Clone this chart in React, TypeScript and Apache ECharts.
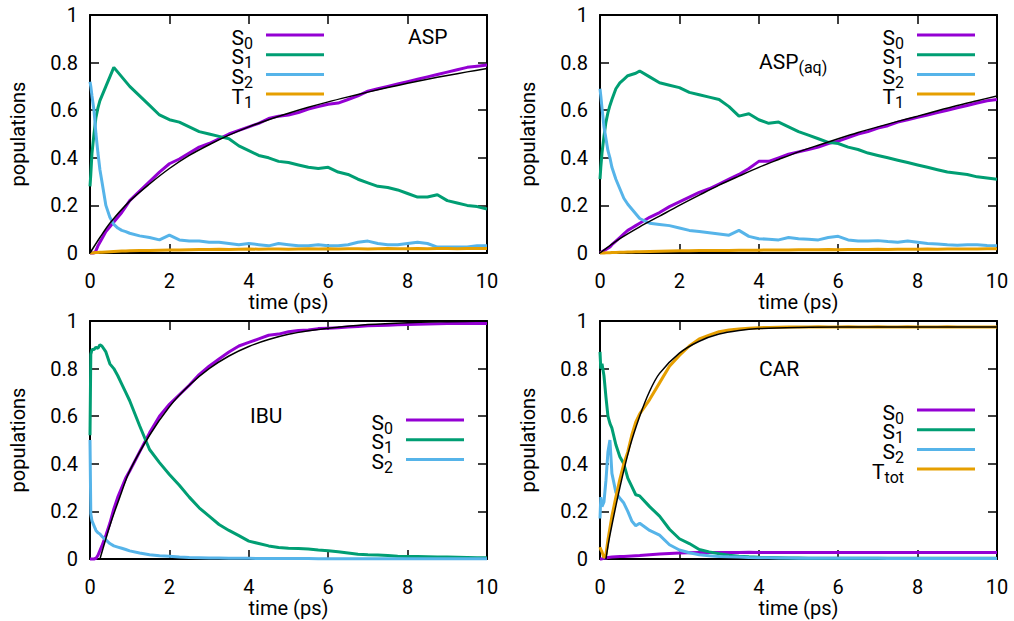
import React, { useEffect, useRef } from "react";
import * as echarts from "echarts";

// shared time grid (ps)
const times = [
  0, 0.02, 0.05, 0.1, 0.15, 0.2, 0.25, 0.3, 0.4, 0.5, 0.6, 0.7, 0.8, 0.9,
  1, 1.25, 1.5, 1.75, 2, 2.25, 2.5, 2.75, 3,
  3.25, 3.5, 3.75, 4, 4.25, 4.5, 4.75, 5,
  5.25, 5.5, 5.75, 6, 6.25, 6.5, 6.75, 7,
  7.25, 7.5, 7.75, 8, 8.25, 8.5, 8.75, 9,
  9.25, 9.5, 9.75, 10,
];

const xTicks = [0, 2, 4, 6, 8, 10];
const yTicks = [0, 0.2, 0.4, 0.6, 0.8, 1];

// ---------- ASP ----------
const aspS0 = [
  0, 0, 0, 0, 0.01, 0.03, 0.045, 0.06, 0.09, 0.11, 0.13, 0.15, 0.17, 0.195,
  0.22, 0.26, 0.3, 0.34, 0.375, 0.395, 0.42, 0.445, 0.46,
  0.48, 0.5, 0.515, 0.53, 0.545, 0.565, 0.575, 0.58,
  0.59, 0.605, 0.615, 0.625, 0.63, 0.645, 0.66, 0.68,
  0.69, 0.7, 0.71, 0.72, 0.73, 0.74, 0.75, 0.76,
  0.77, 0.78, 0.785, 0.79,
];
const aspS1 = [
  0.28, 0.33, 0.42, 0.5, 0.57, 0.61, 0.64, 0.66, 0.7, 0.74, 0.78, 0.76, 0.74, 0.72,
  0.7, 0.66, 0.62, 0.58, 0.56, 0.55, 0.53, 0.51, 0.5,
  0.49, 0.48, 0.45, 0.43, 0.41, 0.4, 0.385, 0.38,
  0.37, 0.36, 0.355, 0.36, 0.34, 0.33, 0.31, 0.295,
  0.28, 0.275, 0.265, 0.25, 0.235, 0.235, 0.245, 0.22,
  0.21, 0.2, 0.195, 0.185,
];
const aspS2 = [
  0.72, 0.7, 0.66, 0.6, 0.5, 0.42, 0.35, 0.3, 0.2, 0.15, 0.12, 0.105, 0.095, 0.09,
  0.083, 0.072, 0.065, 0.055, 0.075, 0.055, 0.05, 0.05, 0.045,
  0.045, 0.04, 0.035, 0.04, 0.035, 0.03, 0.04, 0.035,
  0.03, 0.03, 0.035, 0.03, 0.03, 0.035, 0.045, 0.05,
  0.04, 0.035, 0.035, 0.04, 0.045, 0.04, 0.025, 0.025,
  0.025, 0.025, 0.03, 0.03,
];
const aspT1 = [
  0, 0, 0, 0.001, 0.002, 0.002, 0.003, 0.003, 0.004, 0.005, 0.006, 0.007, 0.008, 0.008,
  0.009, 0.01, 0.011, 0.012, 0.013, 0.013, 0.014, 0.015, 0.015,
  0.016, 0.015, 0.016, 0.017, 0.016, 0.017, 0.017, 0.016,
  0.017, 0.018, 0.017, 0.018, 0.017, 0.018, 0.018, 0.017,
  0.018, 0.019, 0.018, 0.018, 0.019, 0.018, 0.019, 0.019,
  0.018, 0.019, 0.019, 0.019,
];
const aspFit = [
  [0, 0], [0.25, 0.065], [0.5, 0.125], [1, 0.218], [1.5, 0.29], [2, 0.355],
  [2.5, 0.41], [3, 0.455], [3.5, 0.495], [4, 0.53], [4.5, 0.56], [5, 0.587],
  [5.5, 0.612], [6, 0.635], [6.5, 0.656], [7, 0.676], [7.5, 0.695], [8, 0.713],
  [8.5, 0.73], [9, 0.746], [9.5, 0.761], [10, 0.775],
];

// ---------- ASP(aq) ----------
const aqS0 = [
  0, 0.002, 0.005, 0.01, 0.015, 0.02, 0.025, 0.035, 0.05, 0.065, 0.08, 0.095, 0.105, 0.115,
  0.125, 0.15, 0.17, 0.195, 0.215, 0.235, 0.255, 0.27, 0.29,
  0.31, 0.33, 0.355, 0.385, 0.385, 0.4, 0.415, 0.425,
  0.435, 0.445, 0.46, 0.47, 0.485, 0.5, 0.51, 0.525,
  0.535, 0.55, 0.56, 0.57, 0.58, 0.59, 0.6, 0.61,
  0.62, 0.63, 0.64, 0.645,
];
const aqS1 = [
  0.31, 0.36, 0.42, 0.49, 0.55, 0.59, 0.62, 0.645, 0.69, 0.715, 0.73, 0.745, 0.75, 0.755,
  0.765, 0.74, 0.715, 0.705, 0.695, 0.675, 0.665, 0.655, 0.645,
  0.615, 0.575, 0.585, 0.56, 0.545, 0.55, 0.53, 0.51,
  0.495, 0.48, 0.465, 0.46, 0.445, 0.435, 0.42, 0.41,
  0.4, 0.39, 0.38, 0.37, 0.36, 0.35, 0.34, 0.335,
  0.33, 0.32, 0.315, 0.31,
];
const aqS2 = [
  0.69, 0.66, 0.61, 0.53, 0.48, 0.43, 0.4, 0.36, 0.31, 0.27, 0.23, 0.205, 0.185, 0.165,
  0.145, 0.125, 0.12, 0.115, 0.105, 0.095, 0.09, 0.085, 0.08,
  0.075, 0.095, 0.07, 0.06, 0.058, 0.055, 0.065, 0.06,
  0.058, 0.055, 0.065, 0.07, 0.055, 0.05, 0.05, 0.052,
  0.048, 0.045, 0.05, 0.045, 0.04, 0.038, 0.035, 0.033,
  0.035, 0.035, 0.032, 0.03,
];
const aqT1 = [
  0, 0, 0, 0, 0.001, 0.001, 0.001, 0.002, 0.002, 0.003, 0.003, 0.004, 0.004, 0.005,
  0.005, 0.006, 0.007, 0.008, 0.009, 0.009, 0.01, 0.01, 0.011,
  0.011, 0.012, 0.012, 0.012, 0.013, 0.013, 0.013, 0.014,
  0.014, 0.014, 0.015, 0.014, 0.015, 0.015, 0.015, 0.016,
  0.015, 0.016, 0.016, 0.016, 0.017, 0.016, 0.017, 0.017,
  0.017, 0.017, 0.018, 0.018,
];
const aqFit = [
  [0, 0], [0.5, 0.06], [1, 0.11], [1.5, 0.155], [2, 0.2], [2.5, 0.243],
  [3, 0.285], [3.5, 0.323], [4, 0.36], [4.5, 0.393], [5, 0.425], [5.5, 0.453],
  [6, 0.48], [6.5, 0.506], [7, 0.53], [7.5, 0.553], [8, 0.575], [8.5, 0.598],
  [9, 0.62], [9.5, 0.64], [10, 0.66],
];

// ---------- IBU ----------
const ibuS0 = [
  0, 0, 0, 0, 0.003, 0.015, 0.035, 0.055, 0.1, 0.15, 0.21, 0.26, 0.3, 0.34,
  0.37, 0.45, 0.53, 0.6, 0.65, 0.69, 0.73, 0.775, 0.81,
  0.84, 0.87, 0.895, 0.91, 0.925, 0.94, 0.945, 0.955,
  0.96, 0.962, 0.968, 0.97, 0.972, 0.975, 0.977, 0.98,
  0.981, 0.982, 0.984, 0.985, 0.986, 0.987, 0.988, 0.989,
  0.99, 0.99, 0.99, 0.99,
];
const ibuS1 = [
  0.52, 0.86, 0.88, 0.88, 0.89, 0.885, 0.9, 0.895, 0.87, 0.82, 0.8, 0.77, 0.735, 0.7,
  0.665, 0.56, 0.46, 0.405, 0.355, 0.31, 0.26, 0.215, 0.18,
  0.145, 0.12, 0.098, 0.075, 0.065, 0.055, 0.048, 0.045,
  0.044, 0.042, 0.038, 0.035, 0.03, 0.025, 0.02, 0.018,
  0.017, 0.015, 0.012, 0.011, 0.01, 0.009, 0.008, 0.008,
  0.007, 0.006, 0.005, 0.005,
];
const ibuS2 = [
  0.5, 0.19, 0.16, 0.14, 0.12, 0.11, 0.105, 0.095, 0.08, 0.065, 0.055, 0.05, 0.045, 0.04,
  0.034, 0.025, 0.018, 0.014, 0.012, 0.008, 0.006, 0.005, 0.004,
  0.004, 0.003, 0.003, 0.003, 0.002, 0.002, 0.002, 0.002,
  0.002, 0.002, 0.001, 0.001, 0.001, 0.001, 0.001, 0.001,
  0.001, 0.001, 0.001, 0.001, 0.001, 0.001, 0.001, 0.001,
  0.001, 0.001, 0.001, 0.001,
];
const ibuFit = [
  [0.25, 0], [0.5, 0.14], [0.75, 0.26], [1, 0.37], [1.5, 0.52], [2, 0.64],
  [2.5, 0.73], [3, 0.8], [3.5, 0.853], [4, 0.893], [4.5, 0.922], [5, 0.944],
  [5.5, 0.959], [6, 0.97], [7, 0.985], [8, 0.993], [9, 0.997], [10, 1.0],
];

// ---------- CAR ----------
const carS0 = [
  0, 0, 0.001, 0.003, 0.004, 0.006, 0.007, 0.008, 0.009, 0.01, 0.011, 0.012, 0.013, 0.014,
  0.015, 0.018, 0.021, 0.023, 0.025, 0.026, 0.027, 0.027, 0.027,
  0.027, 0.027, 0.028, 0.027, 0.027, 0.027, 0.027, 0.027,
  0.027, 0.027, 0.027, 0.027, 0.027, 0.027, 0.027, 0.027,
  0.027, 0.027, 0.027, 0.027, 0.027, 0.027, 0.027, 0.027,
  0.027, 0.027, 0.027, 0.027,
];
const carS1 = [
  0.87, 0.8, 0.82, 0.77, 0.68, 0.6, 0.57, 0.55, 0.48, 0.43, 0.4, 0.34, 0.305, 0.27,
  0.265, 0.22, 0.18, 0.125, 0.085, 0.065, 0.04, 0.03, 0.022,
  0.016, 0.012, 0.009, 0.007, 0.006, 0.005, 0.004, 0.004,
  0.003, 0.003, 0.003, 0.003, 0.003, 0.003, 0.003, 0.003,
  0.003, 0.003, 0.003, 0.003, 0.003, 0.003, 0.003, 0.003,
  0.003, 0.003, 0.003, 0.003,
];
const carS2 = [
  0.17, 0.26, 0.22, 0.24, 0.33, 0.45, 0.5, 0.36, 0.28, 0.255, 0.235, 0.2, 0.16, 0.14,
  0.15, 0.12, 0.1, 0.06, 0.038, 0.026, 0.018, 0.014, 0.011,
  0.009, 0.008, 0.006, 0.005, 0.005, 0.004, 0.004, 0.003,
  0.003, 0.003, 0.003, 0.003, 0.003, 0.003, 0.003, 0.003,
  0.002, 0.002, 0.002, 0.002, 0.002, 0.002, 0.002, 0.002,
  0.002, 0.002, 0.002, 0.002,
];
const carTtot = [
  0.05, 0.04, 0.03, 0.005, 0.02, 0.08, 0.13, 0.18, 0.26, 0.335, 0.4, 0.45, 0.52, 0.575,
  0.61, 0.67, 0.74, 0.81, 0.855, 0.895, 0.925, 0.94, 0.955,
  0.962, 0.966, 0.97, 0.972, 0.973, 0.974, 0.975, 0.975,
  0.975, 0.976, 0.975, 0.975, 0.976, 0.975, 0.975, 0.976,
  0.975, 0.975, 0.976, 0.975, 0.975, 0.975, 0.976, 0.975,
  0.975, 0.975, 0.975, 0.975,
];
const carFit = [
  [0.15, 0], [0.25, 0.1], [0.5, 0.3], [0.75, 0.47], [1, 0.6], [1.25, 0.705],
  [1.5, 0.78], [2, 0.865], [2.5, 0.915], [3, 0.945], [3.5, 0.96], [4, 0.968],
  [5, 0.973], [6, 0.975], [8, 0.975], [10, 0.975],
];

const COL = { S0: "#9400d3", S1: "#009e73", S2: "#56b4e9", T: "#e69f00" };
const FONT = "Roboto";

type Curve = { color: string; vals: number[]; main: string; sub: string };
type Panel = {
  left: number;
  top: number;
  curves: Curve[];
  fit: number[][];
  label: { main: string; sub: string; x: number; y: number };
  legendX: number;
  legendY: number;
};

const panels: Panel[] = [
  {
    left: 90, top: 15,
    curves: [
      { color: COL.S0, vals: aspS0, main: "S", sub: "0" },
      { color: COL.S1, vals: aspS1, main: "S", sub: "1" },
      { color: COL.S2, vals: aspS2, main: "S", sub: "2" },
      { color: COL.T, vals: aspT1, main: "T", sub: "1" },
    ],
    fit: aspFit,
    label: { main: "ASP", sub: "", x: 408, y: 38 },
    legendX: 253, legendY: 35,
  },
  {
    left: 600, top: 15,
    curves: [
      { color: COL.S0, vals: aqS0, main: "S", sub: "0" },
      { color: COL.S1, vals: aqS1, main: "S", sub: "1" },
      { color: COL.S2, vals: aqS2, main: "S", sub: "2" },
      { color: COL.T, vals: aqT1, main: "T", sub: "1" },
    ],
    fit: aqFit,
    label: { main: "ASP", sub: "(aq)", x: 759, y: 62 },
    legendX: 904, legendY: 35,
  },
  {
    left: 90, top: 321,
    curves: [
      { color: COL.S0, vals: ibuS0, main: "S", sub: "0" },
      { color: COL.S1, vals: ibuS1, main: "S", sub: "1" },
      { color: COL.S2, vals: ibuS2, main: "S", sub: "2" },
    ],
    fit: ibuFit,
    label: { main: "IBU", sub: "", x: 250, y: 417 },
    legendX: 393, legendY: 420,
  },
  {
    left: 600, top: 321,
    curves: [
      { color: COL.S0, vals: carS0, main: "S", sub: "0" },
      { color: COL.S1, vals: carS1, main: "S", sub: "1" },
      { color: COL.S2, vals: carS2, main: "S", sub: "2" },
      { color: COL.T, vals: carTtot, main: "T", sub: "tot" },
    ],
    fit: carFit,
    label: { main: "CAR", sub: "", x: 759, y: 370 },
    legendX: 904, legendY: 410,
  },
];

const PW = 397;
const PH = 238;
const ROW = 19.7;

const RICH = {
  m: { fontSize: 21, fontFamily: FONT, fill: "#000", lineHeight: 15, padding: [0, 0, 3, 0] },
  s: { fontSize: 16, fontFamily: FONT, fill: "#000", lineHeight: 10, padding: [8, 0, 0, 0] },
};

function buildOption() {
  const grid: any[] = [];
  const xAxis: any[] = [];
  const yAxis: any[] = [];
  const series: any[] = [];
  const graphic: any[] = [];

  const lineStyle = { color: "#000", width: 2 };
  const tickStyle = { color: "#000", width: 1.5 };

  panels.forEach((p, i) => {
    grid.push({ left: p.left, top: p.top, width: PW, height: PH, containLabel: false });
    const xBase = {
      gridIndex: i, type: "value", min: xTicks[0], max: xTicks[xTicks.length - 1],
      interval: xTicks[1] - xTicks[0], splitLine: { show: false },
      axisLine: { show: true, onZero: false, lineStyle },
      axisTick: { show: true, inside: true, length: 9, lineStyle: tickStyle },
    };
    xAxis.push({
      ...xBase, position: "bottom",
      axisLabel: { show: true, margin: 18, fontSize: 20, fontFamily: FONT, color: "#000" },
      name: "time (ps)", nameLocation: "middle", nameGap: 39,
      nameTextStyle: { fontSize: 20, fontFamily: FONT, color: "#000" },
    });
    xAxis.push({ ...xBase, position: "top", axisLabel: { show: false } });
    const yBase = {
      gridIndex: i, type: "value", min: yTicks[0], max: yTicks[yTicks.length - 1],
      interval: yTicks[1] - yTicks[0], splitLine: { show: false },
      axisLine: { show: true, onZero: false, lineStyle },
      axisTick: { show: true, inside: true, length: 9, lineStyle: tickStyle },
    };
    yAxis.push({
      ...yBase, position: "left",
      axisLabel: { show: true, margin: 12, fontSize: 20, fontFamily: FONT, color: "#000" },
      name: "populations", nameLocation: "middle", nameGap: 62,
      nameTextStyle: { fontSize: 20, fontFamily: FONT, color: "#000" },
    });
    yAxis.push({ ...yBase, position: "right", axisLabel: { show: false } });

    p.curves.forEach((c) => {
      series.push({
        type: "line", xAxisIndex: 2 * i, yAxisIndex: 2 * i,
        data: times.map((t, j) => [t, c.vals[j]]),
        symbol: "none", showSymbol: false, clip: false, silent: true,
        lineStyle: { color: c.color, width: 3 }, itemStyle: { color: c.color },
      });
    });
    series.push({
      type: "line", xAxisIndex: 2 * i, yAxisIndex: 2 * i,
      data: p.fit, smooth: 0.3,
      symbol: "none", showSymbol: false, clip: false, silent: true,
      lineStyle: { color: "#000", width: 1.5 }, itemStyle: { color: "#000" },
    });

    // legend (gnuplot style key)
    p.curves.forEach((c, k) => {
      const ry = p.legendY + k * ROW;
      graphic.push({
        type: "text", x: p.legendX, y: ry + 4, z: 100,
        style: { text: `{m|${c.main}}{s|${c.sub}}`, rich: RICH, align: "right", verticalAlign: "middle" },
      });
      graphic.push({
        type: "line", z: 100,
        shape: { x1: p.legendX + 13, y1: ry, x2: p.legendX + 71, y2: ry },
        style: { stroke: c.color, lineWidth: 3 },
      });
    });

    // panel label
    const lt = p.label.sub ? `{m|${p.label.main}}{s|${p.label.sub}}` : `{m|${p.label.main}}`;
    graphic.push({
      type: "text", x: p.label.x, y: p.label.y + (p.label.sub ? 1.5 : 0), z: 100,
      style: { text: lt, rich: RICH, align: "left", verticalAlign: "middle" },
    });
  });

  return {
    animation: false,
    backgroundColor: "#fff",
    textStyle: { fontFamily: FONT },
    grid, xAxis, yAxis, series, graphic,
  };
}

export default function App() {
  const ref = useRef<HTMLDivElement>(null);
  useEffect(() => {
    if (!ref.current) return;
    const chart = echarts.init(ref.current, undefined, { renderer: "svg" });
    chart.setOption(buildOption() as any);
    return () => chart.dispose();
  }, []);
  return (
    <div
      ref={ref}
      style={{ position: "absolute", left: 0, top: 0, width: 1014, height: 621 }}
    />
  );
}
